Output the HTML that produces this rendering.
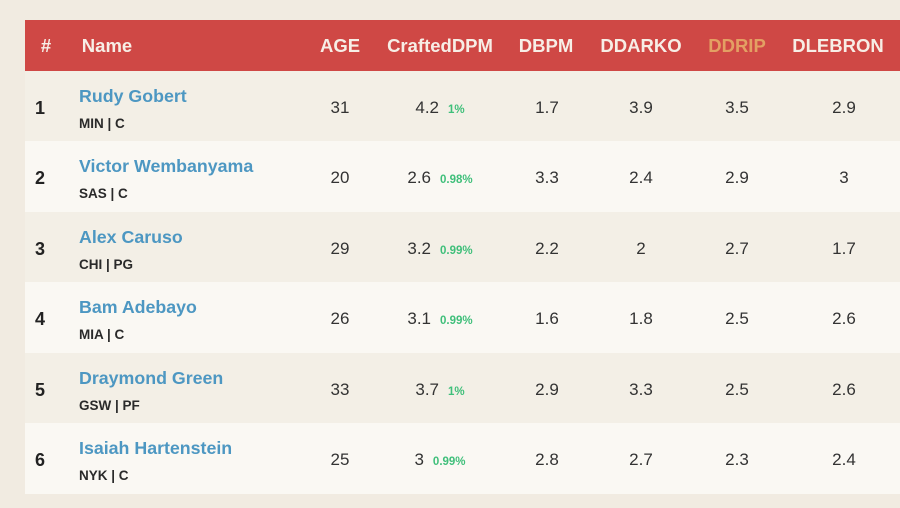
<!DOCTYPE html>
<html><head><style>
body{margin:0;width:900px;height:508px;background:#f1ebe1;font-family:"Liberation Sans",sans-serif;overflow:hidden;position:relative}
.hdr{position:absolute;left:25px;top:20px;width:875px;height:51px;background:#cf4845}
.h{position:absolute;top:20px;height:51px;line-height:51px;color:#f7eee6;font-weight:bold;font-size:18.5px;transform:translateX(-50%);white-space:nowrap}
.row{position:absolute;left:25px;width:875px;height:71px}
.c{position:absolute;transform:translateX(-50%);font-size:17px;color:#333;white-space:nowrap}
.num{position:absolute;left:35px;font-weight:bold;font-size:18px;color:#222}
.nm{position:absolute;left:79px;font-weight:bold;font-size:17.8px;color:#4d97c2}
.tm{position:absolute;left:79px;font-weight:bold;font-size:13.5px;color:#2a2a2a}
.p{font-size:11.5px;color:#3fbf7a;font-weight:bold;margin-left:9px}
</style></head><body>
<div class="hdr"></div>
<div class="h" style="left:46px">#</div>
<div class="h" style="left:107px">Name</div>
<div class="h" style="left:340px">AGE</div>
<div class="h" style="left:440px">CraftedDPM</div>
<div class="h" style="left:546px">DBPM</div>
<div class="h" style="left:641px">DDARKO</div>
<div class="h" style="left:737px;color:#e3a063">DDRIP</div>
<div class="h" style="left:838px">DLEBRON</div>
<div id="rows"></div>
<script>
var d=[["1","Rudy Gobert","MIN | C","31","4.2","1%","1.7","3.9","3.5","2.9"],
["2","Victor Wembanyama","SAS | C","20","2.6","0.98%","3.3","2.4","2.9","3"],
["3","Alex Caruso","CHI | PG","29","3.2","0.99%","2.2","2","2.7","1.7"],
["4","Bam Adebayo","MIA | C","26","3.1","0.99%","1.6","1.8","2.5","2.6"],
["5","Draymond Green","GSW | PF","33","3.7","1%","2.9","3.3","2.5","2.6"],
["6","Isaiah Hartenstein","NYK | C","25","3","0.99%","2.8","2.7","2.3","2.4"]];
var h="";
d.forEach(function(r,i){var t=71+i*70.4;var bg=i%2?"#faf8f3":"#f3efe6";
h+='<div class="row" style="top:'+t+'px;background:'+bg+'"></div>';
h+='<div class="num" style="top:'+(t+27)+'px">'+r[0]+'</div>';
h+='<div class="nm" style="top:'+(t+15)+'px">'+r[1]+'</div>';
h+='<div class="tm" style="top:'+(t+45)+'px">'+r[2]+'</div>';
var y=t+27;
h+='<div class="c" style="left:340px;top:'+y+'px">'+r[3]+'</div>';
h+='<div class="c" style="left:440px;top:'+y+'px">'+r[4]+'<span class="p">'+r[5]+'</span></div>';
h+='<div class="c" style="left:547px;top:'+y+'px">'+r[6]+'</div>';
h+='<div class="c" style="left:641px;top:'+y+'px">'+r[7]+'</div>';
h+='<div class="c" style="left:737px;top:'+y+'px">'+r[8]+'</div>';
h+='<div class="c" style="left:844px;top:'+y+'px">'+r[9]+'</div>';});
document.getElementById("rows").innerHTML=h;
</script>
</body></html>
